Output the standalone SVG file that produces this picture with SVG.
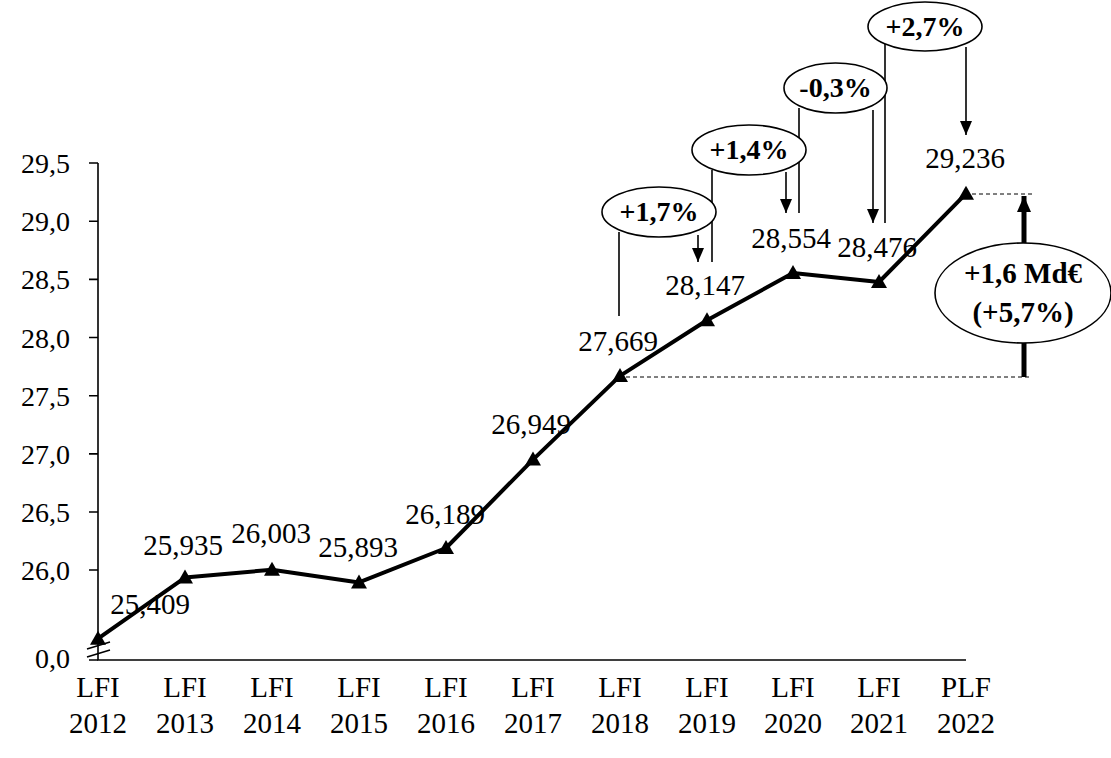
<svg xmlns="http://www.w3.org/2000/svg" xmlns:xlink="http://www.w3.org/1999/xlink" width="1111" height="758" viewBox="0 0 1111 758">
<style>
text{font-family:"Liberation Serif","DejaVu Serif",serif;fill:#000}
.lab{font-size:29px;text-anchor:middle}
.tk{font-size:28px;text-anchor:end}
.b{font-size:28px;font-weight:bold;text-anchor:middle}
.ax{stroke:#000;stroke-width:1.6;fill:none}
.thin{stroke:#000;stroke-width:1.6;fill:none}
.arr{stroke:#000;stroke-width:1.6;fill:none;marker-end:url(#ah)}
.ell{fill:#fff;stroke:#000;stroke-width:1.6}
.dash{stroke:#000;stroke-width:1;stroke-dasharray:4 3;fill:none}
</style>
<defs>
<marker id="ah" markerUnits="userSpaceOnUse" markerWidth="14" markerHeight="12" refX="14" refY="6" orient="auto" viewBox="0 0 14 12"><path d="M0,0 L14,6 L0,12 Z" fill="#000"/></marker>
<marker id="bh" markerUnits="userSpaceOnUse" markerWidth="16" markerHeight="14" refX="16" refY="7" orient="auto" viewBox="0 0 16 14"><path d="M0,0 L16,7 L0,14 Z" fill="#000"/></marker>
<path id="tri" d="M0,-8 L8,6 L-8,6 Z" fill="#000"/>
</defs>
<rect width="1111" height="758" fill="#fff"/>
<g id="axes">
<path class="ax" d="M98,163 V660 H966"/>
<path class="ax" d="M89,163 H98 M89,221.2 H98 M89,279.4 H98 M89,337.5 H98 M89,395.7 H98 M89,453.9 H98 M89,512 H98 M89,570 H98 M89,660 H98"/>
<path class="ax" d="M87,649 L110,642 M87,657 L110,650"/>
<text class="tk" x="70" y="173">29,5</text>
<text class="tk" x="70" y="231">29,0</text>
<text class="tk" x="70" y="289">28,5</text>
<text class="tk" x="70" y="348">28,0</text>
<text class="tk" x="70" y="406">27,5</text>
<text class="tk" x="70" y="464">27,0</text>
<text class="tk" x="70" y="522">26,5</text>
<text class="tk" x="70" y="580">26,0</text>
<text class="tk" x="70" y="668">0,0</text>
<g class="xl">
<text class="lab" x="98" y="697">LFI</text><text class="lab" x="98" y="733">2012</text>
<text class="lab" x="185" y="697">LFI</text><text class="lab" x="185" y="733">2013</text>
<text class="lab" x="272" y="697">LFI</text><text class="lab" x="272" y="733">2014</text>
<text class="lab" x="359" y="697">LFI</text><text class="lab" x="359" y="733">2015</text>
<text class="lab" x="446" y="697">LFI</text><text class="lab" x="446" y="733">2016</text>
<text class="lab" x="533" y="697">LFI</text><text class="lab" x="533" y="733">2017</text>
<text class="lab" x="620" y="697">LFI</text><text class="lab" x="620" y="733">2018</text>
<text class="lab" x="707" y="697">LFI</text><text class="lab" x="707" y="733">2019</text>
<text class="lab" x="793" y="697">LFI</text><text class="lab" x="793" y="733">2020</text>
<text class="lab" x="879" y="697">LFI</text><text class="lab" x="879" y="733">2021</text>
<text class="lab" x="966" y="697">PLF</text><text class="lab" x="966" y="733">2022</text>
</g>
</g>
<g id="series">
<polyline fill="none" stroke="#000" stroke-width="4" stroke-linejoin="round" points="98,638.7 185,577.6 272,569.7 359,582.4 446,548 533,459.6 620,375.9 707,320.3 793,273 879,282 966,193.7"/>
<use xlink:href="#tri" x="98" y="638.7"/>
<use xlink:href="#tri" x="185" y="577.6"/>
<use xlink:href="#tri" x="272" y="569.7"/>
<use xlink:href="#tri" x="359" y="582.4"/>
<use xlink:href="#tri" x="446" y="548"/>
<use xlink:href="#tri" x="533" y="459.6"/>
<use xlink:href="#tri" x="620" y="375.9"/>
<use xlink:href="#tri" x="707" y="320.3"/>
<use xlink:href="#tri" x="793" y="273"/>
<use xlink:href="#tri" x="879" y="282"/>
<use xlink:href="#tri" x="966" y="193.7"/>
</g>
<g id="datalabels">
<text class="lab" x="150" y="614">25,409</text>
<text class="lab" x="183" y="555">25,935</text>
<text class="lab" x="271" y="543">26,003</text>
<text class="lab" x="358" y="557">25,893</text>
<text class="lab" x="445" y="524">26,189</text>
<text class="lab" x="531" y="434">26,949</text>
<text class="lab" x="618" y="351">27,669</text>
<text class="lab" x="705" y="295">28,147</text>
<text class="lab" x="791" y="248">28,554</text>
<text class="lab" x="877" y="257">28,476</text>
<text class="lab" x="965" y="168">29,236</text>
</g>
<g id="connectors">
<path class="thin" d="M619,232 V316"/>
<path class="arr" d="M698,235 V262"/>
<path class="thin" d="M712,170 V262"/>
<path class="arr" d="M786,172 V213"/>
<path class="thin" d="M799,108 V213"/>
<path class="arr" d="M873,110 V223"/>
<path class="thin" d="M885,43 V223"/>
<path class="arr" d="M966,47 V135"/>
<path class="dash" d="M972,194 H1032 M626,377 H1032"/>
<path d="M1024,377 V342" stroke="#000" stroke-width="5" fill="none"/>
<path d="M1024,243 V196" stroke="#000" stroke-width="5" fill="none" marker-end="url(#bh)"/>
</g>
<g id="n17"><ellipse class="ell" cx="659" cy="212" rx="57" ry="25"/><text class="b" x="659" y="221">+1,7%</text></g>
<g id="n14"><ellipse class="ell" cx="749" cy="150" rx="57" ry="25"/><text class="b" x="749" y="159">+1,4%</text></g>
<g id="n03"><ellipse class="ell" cx="835.5" cy="88" rx="51.5" ry="25"/><text class="b" x="835.5" y="97">-0,3%</text></g>
<g id="n27"><ellipse class="ell" cx="925" cy="26.5" rx="57" ry="24.5"/><text class="b" x="925" y="36">+2,7%</text></g>
<g id="total"><ellipse class="ell" cx="1023" cy="293" rx="88" ry="50"/><text class="b" x="1023" y="283" style="font-size:29px">+1,6 Md€</text><text class="b" x="1023" y="322" style="font-size:29px">(+5,7%)</text></g>
</svg>
